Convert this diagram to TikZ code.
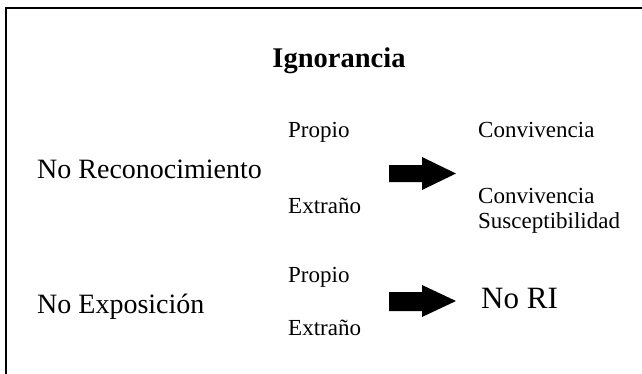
\documentclass[tikz,border=0pt]{standalone}
\usepackage{fontspec}
\setmainfont{Liberation Serif}
\begin{document}
\begin{tikzpicture}[x=1pt,y=-1pt,
  lbl/.style={anchor=base west,inner sep=0pt,font=\fontsize{23}{26}\selectfont},
  big/.style={anchor=base west,inner sep=0pt,font=\fontsize{28}{32}\selectfont},
  blockarrow/.style={fill=black,draw=none}]
\useasboundingbox (0,0) rectangle (642,373);
\clip (0,0) rectangle (642,373);
\fill[white] (0,0) rectangle (642,373);
\draw[line width=2pt] (6,8) rectangle (700,420);
\node[anchor=base,inner sep=0pt,font=\fontsize{28.5}{32}\selectfont\bfseries] (title) at (339,67) {Ignorancia};
\node[big] (norec) at (37,178) {No Reconocimiento};
\node[big] (noexp) at (37,313) {No Exposición};
\node[lbl] (prop1) at (288,137) {Propio};
\node[lbl] (ext1) at (288,213) {Extraño};
\node[lbl] (prop2) at (288,282) {Propio};
\node[lbl] (ext2) at (288,335) {Extraño};
\node[lbl] (conv1) at (478,137) {Convivencia};
\node[lbl,align=left] (conv2) at (478,203) {Convivencia};
\node[lbl] (susc) at (478,228) {Susceptibilidad};
\node[anchor=base west,inner sep=0pt,font=\fontsize{31}{34}\selectfont] (nori) at (481,308) {No RI};
\fill[blockarrow] (389,165) -- (422,165) -- (422,157) -- (456,173.5) -- (422,190) -- (422,182) -- (389,182) -- cycle;
\fill[blockarrow] (389,292) -- (422,292) -- (422,285) -- (456,301) -- (422,317) -- (422,311) -- (389,311) -- cycle;
\end{tikzpicture}
\end{document}
